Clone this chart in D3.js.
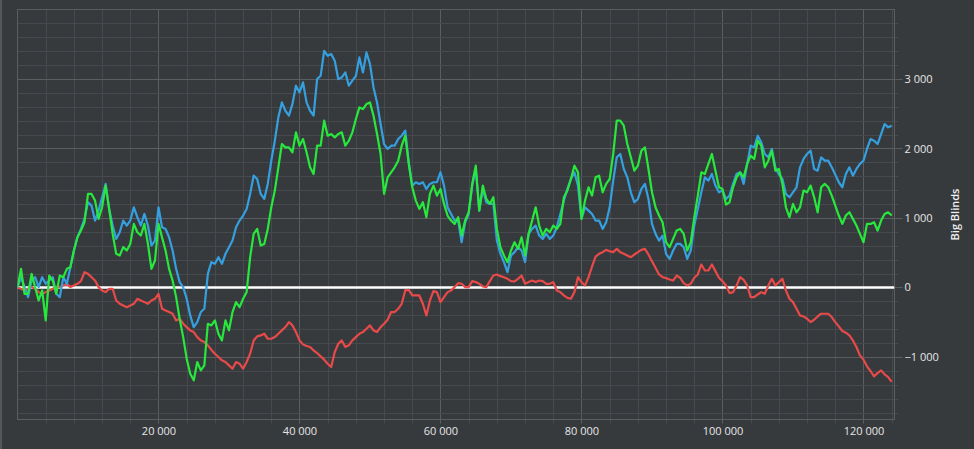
<!DOCTYPE html>
<html><head><meta charset="utf-8">
<script src="https://cdn.jsdelivr.net/npm/d3@7"></script>
<style>
html,body{margin:0;padding:0;background:#373a3d;overflow:hidden}
svg{display:block}
</style></head>
<body><svg id="c" width="974" height="449"></svg>
<script>
// hands step of 500, starting at 0
const handStep = 500;
const xTicks = [20000, 40000, 60000, 80000, 100000, 120000];
const yTicks = [-1000, 0, 1000, 2000, 3000];
const yLabel = "Big Blinds";

const blue = [0,148,5,-139,100,148,5,148,53,100,148,-91,-139,148,53,292,532,723,843,987,
1226,1178,963,1106,1298,1490,1130,891,699,795,963,891,963,1154,1011,891,1058,891,603,675,
1154,867,843,723,532,268,77,5,-163,-402,-570,-498,-354,-307,196,364,340,436,340,484,
580,675,867,963,1035,1130,1346,1609,1561,1346,1274,1490,1825,2112,2448,2663,2543,2472,2639,2903,
2807,2951,2663,2543,2472,2999,3046,3406,3334,3358,3262,2999,3022,3094,2903,2975,3046,3310,3094,3382,
3214,2879,2663,2352,2064,1993,2040,2040,2136,2184,2256,1801,1466,1514,1490,1514,1418,1490,1514,1514,
1657,1466,1154,1058,963,963,651,939,1058,1466,1705,1106,1418,1226,1202,1202,675,484,364,220,
460,508,580,532,364,771,843,891,747,699,771,699,747,867,1058,1250,1418,1561,1657,1466,
987,1154,1106,1058,963,963,843,939,1154,1538,1873,1921,1705,1585,1370,1226,1274,1418,1490,1274,
915,771,675,747,484,412,532,627,627,580,412,532,891,1130,1370,1585,1538,1633,1466,1370,
1394,1274,1322,1490,1633,1657,1490,1777,2040,2016,2184,2088,1921,1873,1993,1729,1624,1561,1346,1298,
1370,1442,1729,1849,1921,1969,1705,1681,1873,1825,1825,1729,1624,1514,1442,1633,1729,1609,1705,1777,
1825,1993,2136,2112,2064,2208,2352,2304,2328];

const green = [0,268,-91,-91,196,5,-187,-43,-474,172,100,-91,172,148,268,292,532,723,819,939,
1346,1346,1250,987,1154,1466,1130,771,484,460,580,532,627,915,795,747,915,627,268,388,
915,723,532,268,100,-139,-450,-714,-1025,-1241,-1336,-1073,-1193,-1121,-522,-546,-474,-666,-762,-474,
-618,-354,-211,-283,-163,-67,436,771,843,603,627,843,1154,1394,1729,2064,2016,2016,1945,2232,
2040,2136,1945,1729,1633,2040,2040,2400,2184,2208,2160,2208,2232,2040,2112,2232,2424,2591,2567,2639,
2663,2472,2208,1921,1346,1585,1657,1729,1825,2040,2184,1777,1442,1250,1130,1226,1011,1346,1466,1322,
1418,1202,1035,963,915,1011,747,963,1082,1490,1753,1106,1466,1274,1202,1298,843,580,460,364,
532,651,556,723,460,771,963,1154,891,747,843,795,891,843,915,1298,1394,1561,1753,1657,
987,1250,1442,1322,1585,1609,1370,1490,1561,1921,2400,2400,2328,2064,1873,1681,1753,1969,2016,1705,
1370,1154,1035,939,651,580,699,819,843,771,532,651,1011,1322,1657,1633,1777,1921,1681,1442,
1418,1193,1226,1442,1585,1657,1585,1777,1897,1849,2112,2040,1729,1825,1969,1681,1705,1490,1154,1011,
1202,1082,1154,1394,1370,1466,1298,1082,1442,1490,1442,1322,1178,1035,915,1035,1082,987,891,771,
651,915,915,939,819,963,1058,1082,1035];

const red = [0,-19,-43,-19,5,-19,-67,-91,-67,-43,-19,5,5,29,53,5,29,53,91,220,
196,148,100,5,-43,-67,-19,-19,-187,-235,-259,-283,-259,-235,-163,-187,-211,-235,-187,-163,
-91,-307,-331,-354,-378,-474,-450,-522,-570,-618,-642,-714,-762,-786,-833,-896,-953,-1001,-1049,-1073,
-1121,-1169,-1073,-1097,-1169,-1073,-953,-762,-704,-690,-666,-738,-738,-714,-666,-618,-570,-498,-546,-642,
-762,-819,-843,-857,-905,-944,-991,-1039,-1097,-1145,-930,-810,-762,-857,-833,-762,-714,-666,-642,-594,
-546,-618,-642,-570,-522,-465,-354,-354,-307,-235,-43,-34,-115,-115,-115,-235,-402,-187,-53,-67,
-211,-139,-67,-43,5,62,53,5,5,91,77,53,14,5,91,172,187,163,148,124,
91,86,124,172,53,77,100,77,100,91,53,53,77,-43,-67,-115,-149,-163,-67,148,
77,29,148,302,445,484,508,541,522,508,556,508,484,460,436,474,508,541,556,474,
378,283,187,148,134,115,100,172,139,62,29,53,139,187,331,244,244,331,235,139,
91,29,-82,-67,29,148,110,29,-139,-139,-101,-67,-91,29,124,29,77,124,-43,-163,
-211,-307,-402,-417,-450,-498,-465,-417,-378,-378,-378,-426,-498,-560,-627,-651,-690,-762,-857,-977,
-1039,-1135,-1202,-1279,-1231,-1193,-1250,-1289,-1360];

const W = 974, H = 449;
const m = {left: 17.5, right: W - 894.5, top: 9.5, bottom: H - 419.5};
const svg = d3.select("#c");
svg.append("rect").attr("x",0).attr("y",0).attr("width",W).attr("height",H).attr("fill","#373a3d");
svg.append("rect").attr("x",0).attr("y",0).attr("width",2).attr("height",H).attr("fill","#54575a");

const x = d3.scaleLinear().domain([0, 124400]).range([m.left, W - m.right]);
const y = d3.scaleLinear().domain([-1900, 4000]).range([H - m.bottom, m.top]);

const g = svg.append("g");
// minor grid
const xMinor = d3.range(4000, 124400, 4000);
const yMinor = d3.range(-1800, 4000, 200);
g.selectAll("line.xm").data(xMinor).join("line")
  .attr("x1", d=>Math.round(x(d))+0.5).attr("x2", d=>Math.round(x(d))+0.5)
  .attr("y1", y(4000)).attr("y2", y(-1900)+4)
  .attr("stroke", d => d % 20000 === 0 ? "#5b5e61" : "#46494d").attr("stroke-width",1);
g.selectAll("line.ym").data(yMinor).join("line")
  .attr("y1", d=>Math.round(y(d))+0.5).attr("y2", d=>Math.round(y(d))+0.5)
  .attr("x1", x(0)).attr("x2", x(124400)+ (d=>0))
  .attr("x2", d => x(124400) + (d % 1000 === 0 ? 8 : 4))
  .attr("stroke", d => d % 1000 === 0 ? "#5b5e61" : "#46494d").attr("stroke-width",1);
// border
g.append("rect").attr("x", x(0)).attr("y", y(4000)).attr("width", x(124400)-x(0)).attr("height", y(-1900)-y(4000))
  .attr("fill","none").attr("stroke","#5b5e61").attr("stroke-width",1);

// axes labels
const fmt = d => d3.format(",")(d).replace(/,/g, " ").replace("-", "-");
svg.append("g").attr("transform", `translate(${x(124400)},0)`)
  .call(d3.axisRight(y).tickValues(yTicks).tickSize(0).tickPadding(10).tickFormat(fmt))
  .call(s => s.select(".domain").remove())
  .call(s => s.selectAll("text").attr("fill","#e6e6e6").attr("font-family","'Open Sans', 'Noto Sans', sans-serif").attr("font-size","11px"));
svg.append("g").attr("transform", `translate(0,${y(-1900)})`)
  .call(d3.axisBottom(x).tickValues(xTicks).tickSize(0).tickPadding(8).tickFormat(fmt))
  .call(s => s.select(".domain").remove())
  .call(s => s.selectAll("text").attr("fill","#e6e6e6").attr("font-family","'Open Sans', 'Noto Sans', sans-serif").attr("font-size","11px"));
svg.append("text").attr("transform", `translate(959,${(y(4000)+y(-1900))/2}) rotate(-90)`)
  .attr("text-anchor","middle").attr("fill","#f0f0f0").attr("font-weight","600")
  .attr("font-family","'Open Sans', 'Noto Sans', sans-serif").attr("font-size","11px").text(yLabel);

const clip = svg.append("clipPath").attr("id","pc").append("rect")
  .attr("x", x(0)).attr("y", y(4000)).attr("width", x(124400)-x(0)).attr("height", y(-1900)-y(4000));
const plot = svg.append("g").attr("clip-path","url(#pc)");
// zero line
plot.append("line").attr("x1", x(0)).attr("x2", x(124400)).attr("y1", y(0)).attr("y2", y(0))
  .attr("stroke","#ffffff").attr("stroke-width",2.5);
const line = d3.line().x((d,i)=>x(i*handStep)).y(d=>y(d));
[[red,"#e84a4a"],[blue,"#35a0e0"],[green,"#27e83c"]].forEach(([data,col])=>{
  plot.append("path").datum(data).attr("d", line).attr("fill","none")
    .attr("stroke", col).attr("stroke-width", 2.2).attr("stroke-linejoin","round");
});
</script></body></html>
